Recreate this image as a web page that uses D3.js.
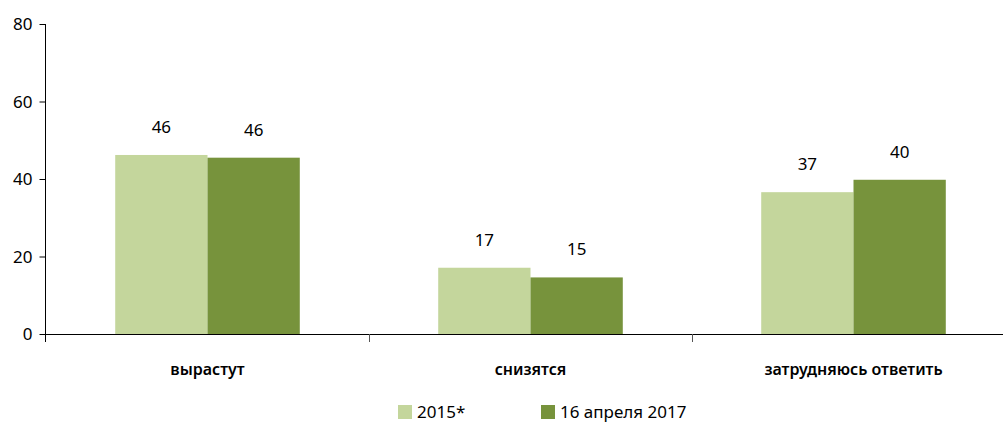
<!DOCTYPE html>
<html lang="ru">
<head>
    <meta charset="UTF-8">
    <title>Ожидания</title>
    <script src="https://d3js.org/d3.v7.min.js"></script>
    <style>
        body { margin: 0; background: #fff; }
        svg { display: block; }
        .tick-label { font-family: "Noto Sans", sans-serif; font-size: 17px; fill: #000; }
        .cat-label { font-family: "Noto Sans", sans-serif; font-size: 16px; font-weight: 600; fill: #000; }
        .legend-label { font-family: "Noto Sans", sans-serif; font-size: 17px; fill: #000; }
    </style>
</head>
<body>
<svg id="chart" width="1003" height="430"></svg>
<script>
    // Data
    const categories = ["вырастут", "снизятся", "затрудняюсь ответить"];
    const seriesNames = ["2015*", "16 апреля 2017"];
    const values2015 = [46.2, 17.1, 36.6];
    const values2017 = [45.5, 14.6, 39.8];
    const yTicks = [0, 20, 40, 60, 80];
    const colors = ["#c4d69c", "#77933c"];

    const svg = d3.select("#chart");
    const x0 = 46, x1 = 1015, yTop = 24, yBottom = 334;

    const x = d3.scaleBand().domain(categories).range([x0, x1]).paddingInner(0).paddingOuter(0);
    const xInner = d3.scaleBand().domain(seriesNames).range([0, x.bandwidth()]).paddingInner(0).paddingOuter(0.75);
    const y = d3.scaleLinear().domain([0, 80]).range([yBottom, yTop]);

    const rows = categories.map((c, i) => ({ cat: c, vals: [values2015[i], values2017[i]] }));

    // bars
    const groups = svg.append("g").selectAll("g").data(rows).join("g")
        .attr("transform", d => `translate(${x(d.cat)},0)`);
    groups.selectAll("rect").data(d => d.vals.map((v, k) => ({ name: seriesNames[k], v, k })))
        .join("rect")
        .attr("x", d => xInner(d.name))
        .attr("width", xInner.bandwidth())
        .attr("y", d => y(d.v))
        .attr("height", d => y(0) - y(d.v))
        .attr("fill", d => colors[d.k]);

    // value labels
    groups.selectAll("text").data(d => d.vals.map((v, k) => ({ name: seriesNames[k], v, k })))
        .join("text")
        .attr("class", "tick-label")
        .attr("x", d => xInner(d.name) + xInner.bandwidth() / 2)
        .attr("y", d => y(d.v) - 22)
        .attr("text-anchor", "middle")
        .text(d => d3.format(".0f")(d.v));

    // y axis
    const yAxis = svg.append("g").attr("transform", `translate(${x0 - 0.5},0)`)
        .call(d3.axisLeft(y).tickValues(yTicks).tickSize(6).tickSizeOuter(0));
    yAxis.select(".domain").remove();
    yAxis.selectAll(".tick line").attr("stroke", "#000");
    yAxis.selectAll(".tick text").attr("class", "tick-label").attr("x", -13).attr("dy", "0.35em");
    yAxis.attr("font-size", null).attr("font-family", null);
    svg.append("line").attr("x1", x0 - 0.5).attr("x2", x0 - 0.5).attr("y1", yTop).attr("y2", yBottom + 8)
        .attr("stroke", "#000");

    // x axis
    svg.append("line").attr("x1", x0).attr("x2", x1).attr("y1", yBottom + 0.5).attr("y2", yBottom + 0.5)
        .attr("stroke", "#000");
    const boundaries = categories.slice(1).map(c => x(c));
    svg.selectAll(".xtick").data(boundaries).join("line")
        .attr("class", "xtick")
        .attr("x1", d => Math.round(d) + 0.5).attr("x2", d => Math.round(d) + 0.5)
        .attr("y1", yBottom).attr("y2", yBottom + 8)
        .attr("stroke", "#555");
    svg.selectAll(".cat-label").data(categories).join("text")
        .attr("class", "cat-label")
        .attr("x", d => x(d) + x.bandwidth() / 2)
        .attr("y", 375)
        .attr("text-anchor", "middle")
        .text(d => d);

    // legend
    const legendX = [398, 541];
    const legend = svg.append("g").selectAll("g").data(seriesNames).join("g")
        .attr("transform", (d, i) => `translate(${legendX[i]},405)`);
    legend.append("rect").attr("width", 14).attr("height", 14).attr("fill", (d, i) => colors[i]);
    legend.append("text").attr("class", "legend-label").attr("x", 19).attr("y", 13).text(d => d);
</script>
</body>
</html>
